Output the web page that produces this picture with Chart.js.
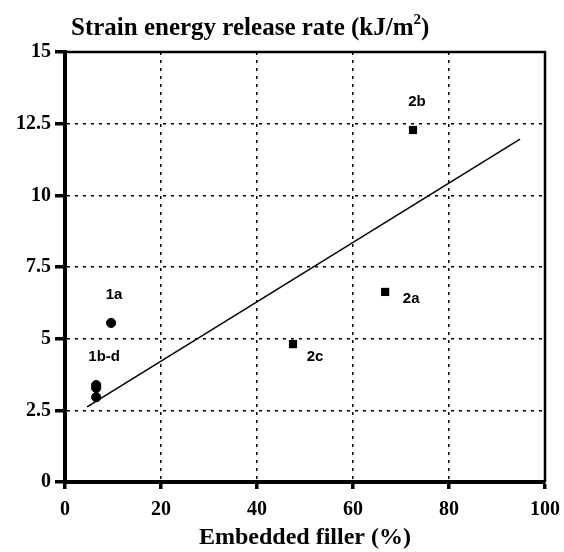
<!DOCTYPE html>
<html>
<head>
<meta charset="utf-8">
<script src="https://cdn.jsdelivr.net/npm/chart.js@4.4.1/dist/chart.umd.min.js"></script>
<style>
  html, body { margin:0; padding:0; background:#fff; }
  #wrap { width:564px; height:552px; }
</style>
</head>
<body>
<div id="wrap"><canvas id="chart" width="564" height="552"></canvas></div>
<script>
/* DATA */
const circleX = [9.6, 6.5, 6.5, 6.5];
const circleY = [5.55, 3.38, 3.28, 2.96];
const squareX = [72.5, 66.7, 47.5];
const squareY = [12.28, 6.63, 4.81];
const fitX = [4.6, 94.8];
const fitY = [2.62, 11.96];
const labelText = ["1a", "1b-d", "2b", "2a", "2c"];
const labelAtX = [9.6, 6.5, 72.5, 66.7, 47.5];
const labelAtY = [5.55, 3.38, 12.28, 6.63, 4.81];
const xTicks = [0, 20, 40, 60, 80, 100];
const yTicks = [0, 2.5, 5, 7.5, 10, 12.5, 15];

const $ = id => document.getElementById(id);
const serif = "'Liberation Serif', 'Times New Roman', serif";
const sans = "'Liberation Sans', Arial, sans-serif";

// pixel nudges for the point labels (same order as labelText)
const labelOffsets = [[3,-28],[8,-28],[4,-28],[26,7],[22,13]];

const pts = (xs, ys) => xs.map((x,i) => ({x, y: ys[i]}));

const extras = {
  id: "extras",
  afterDraw(chart){
    const {ctx, chartArea:a, scales:{x, y}} = chart;
    ctx.save();
    // top + right frame
    ctx.strokeStyle = "#000";
    ctx.lineWidth = 2.5;
    ctx.beginPath();
    ctx.moveTo(a.left, a.top); ctx.lineTo(a.right, a.top); ctx.lineTo(a.right, a.bottom);
    ctx.stroke();
    // title
    ctx.fillStyle = "#000";
    ctx.textBaseline = "alphabetic";
    ctx.textAlign = "left";
    const main = "Strain energy release rate (kJ/m";
    ctx.font = "bold 25px " + serif;
    ctx.fillText(main, 71, 35);
    const w = ctx.measureText(main).width;
    ctx.font = "bold 15px " + serif;
    ctx.fillText("2", 71 + w, 24);
    const w2 = ctx.measureText("2").width;
    ctx.font = "bold 25px " + serif;
    ctx.fillText(")", 71 + w + w2, 35);
    // point labels
    ctx.font = "bold 15px " + sans;
    ctx.textAlign = "center";
    ctx.textBaseline = "middle";
    labelText.forEach((t,i) => {
      const px = x.getPixelForValue(labelAtX[i]) + labelOffsets[i][0];
      const py = y.getPixelForValue(labelAtY[i]) + labelOffsets[i][1];
      ctx.fillText(t, px, py);
    });
    ctx.restore();
  }
};

new Chart($("chart"), {
  type: "scatter",
  data: {
    datasets: [
      { label: "fit", type: "line", data: pts(fitX, fitY), borderColor: "#000", borderWidth: 1.5, pointRadius: 0, fill: false, tension: 0 },
      { label: "1", data: pts(circleX, circleY), pointStyle: "circle", pointRadius: 4.6, backgroundColor: "#000", borderColor: "#000" },
      { label: "2", data: pts(squareX, squareY), pointStyle: "rect", pointRadius: 5.8, backgroundColor: "#000", borderColor: "#000", borderWidth: 0 }
    ]
  },
  options: {
    responsive: false,
    animation: false,
    layout: { padding: { top: 52, right: 19, left: 0, bottom: 0 } },
    plugins: { legend: { display: false }, tooltip: { enabled: false } },
    scales: {
      x: {
        type: "linear", min: 0, max: 100,
        afterBuildTicks: s => { s.ticks = xTicks.map(v => ({value: v})); },
        afterFit: s => { s.height = 70; s.paddingLeft = 0; s.paddingRight = 0; },
        grid: { color: "#000", lineWidth: 1.5, tickLength: 7, tickWidth: 3.5, tickColor: "#000" },
        border: { color: "#000", width: 4, dash: [3, 5] },
        ticks: { color: "#000", font: { family: serif, size: 20, weight: "bold" }, padding: 9 },
        title: { display: true, text: "Embedded filler (%)", color: "#000", font: { family: serif, size: 24, weight: "bold" }, padding: { top: 0, bottom: 0 } }
      },
      y: {
        type: "linear", min: 0, max: 15,
        afterBuildTicks: s => { s.ticks = yTicks.map(v => ({value: v})); },
        afterFit: s => { s.width = 65; s.paddingTop = 0; s.paddingBottom = 0; },
        grid: { color: "#000", lineWidth: 1.5, tickLength: 10, tickWidth: 3.5, tickColor: "#000" },
        border: { color: "#000", width: 4, dash: [3, 5] },
        ticks: { color: "#000", font: { family: serif, size: 20, weight: "bold" }, padding: 4 }
      }
    }
  },
  plugins: [extras]
});
</script>
</body>
</html>
